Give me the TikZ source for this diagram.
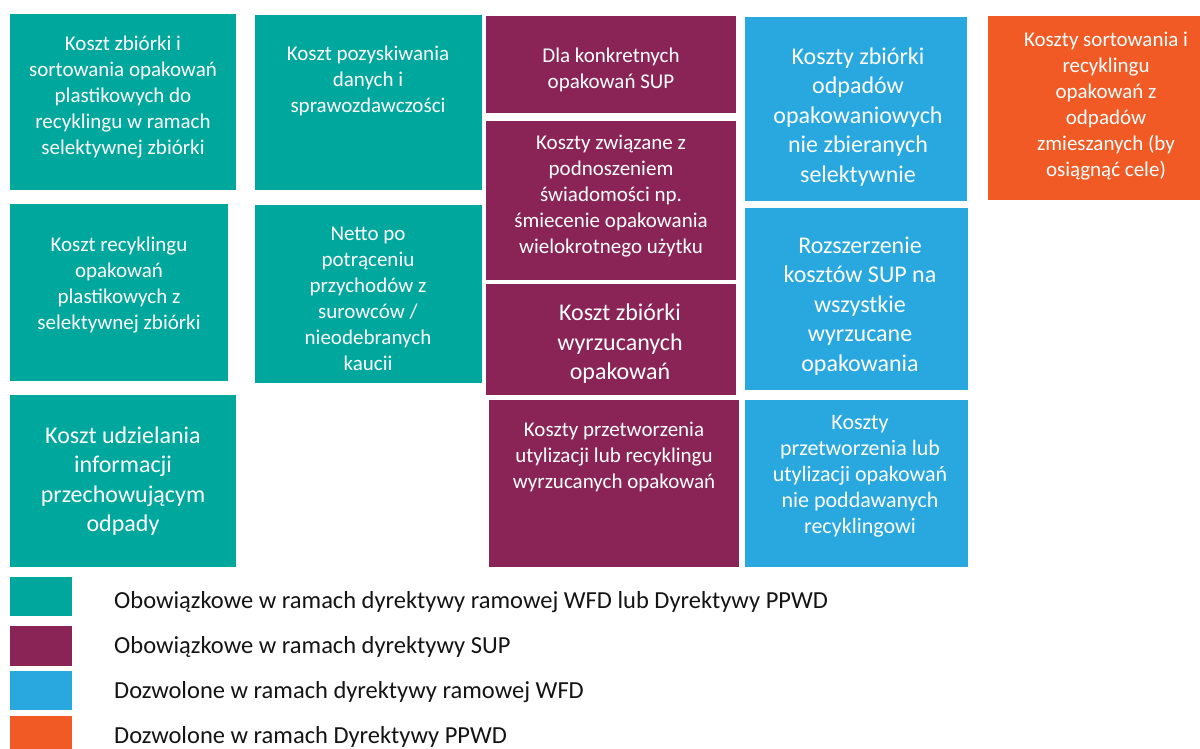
\documentclass[tikz,border=0pt]{standalone}
\usepackage{fontspec}
\setmainfont{Carlito}
\definecolor{cteal}{RGB}{0,167,157}
\definecolor{cpurple}{RGB}{139,36,86}
\definecolor{cblue}{RGB}{41,168,224}
\definecolor{corange}{RGB}{241,90,36}
\definecolor{ctext}{RGB}{20,20,20}
\begin{document}
\begin{tikzpicture}[x=1pt,y=-1pt,
  cell/.style={draw=none,inner sep=0pt,outer sep=0pt},
  lbl/.style={text=white,align=center,inner sep=0pt},
  fa/.style={font=\fontsize{21}{26}\selectfont},
  fb/.style={font=\fontsize{24}{29.5}\selectfont},
  fc/.style={font=\fontsize{22}{26}\selectfont},
  legtext/.style={anchor=west,text=ctext,inner sep=0pt,font=\fontsize{24.5}{28}\selectfont},
  legsq/.style={draw=none,inner sep=0pt,minimum width=62pt}]
\useasboundingbox (0,0) rectangle (1200,749);
% teal cells
\node[cell,fill=cteal,minimum width=226pt,minimum height=176pt] (a) at (123,102) {};
\node[cell,fill=cteal,minimum width=227pt,minimum height=175pt] (b) at (368.5,102.5) {};
\node[cell,fill=cteal,minimum width=218pt,minimum height=177pt] (c) at (119,292.5) {};
\node[cell,fill=cteal,minimum width=227pt,minimum height=178pt] (d) at (368.5,294) {};
\node[cell,fill=cteal,minimum width=226pt,minimum height=172pt] (e) at (123,481) {};
% purple cells
\node[cell,fill=cpurple,minimum width=250pt,minimum height=97pt] (p1) at (611,64.5) {};
\node[cell,fill=cpurple,minimum width=250pt,minimum height=159pt] (p2) at (611,200.5) {};
\node[cell,fill=cpurple,minimum width=250pt,minimum height=111pt] (p3) at (611,339.5) {};
\node[cell,fill=cpurple,minimum width=250pt,minimum height=167pt] (p4) at (614,483.5) {};
% blue cells
\node[cell,fill=cblue,minimum width=222pt,minimum height=184pt] (b1) at (856,109) {};
\node[cell,fill=cblue,minimum width=223pt,minimum height=182pt] (b2) at (856.5,299) {};
\node[cell,fill=cblue,minimum width=223pt,minimum height=167pt] (b3) at (856.5,483.5) {};
% orange cell
\node[cell,fill=corange,minimum width=212pt,minimum height=184pt] (o) at (1094,108) {};
% texts
\node[lbl,fa] (ta) at (123,97) {Koszt zbiórki i\\sortowania opakowań\\plastikowych do\\recyklingu w ramach\\selektywnej zbiórki};
\node[lbl,fa] (tb) at (368,81) {Koszt pozyskiwania\\danych i\\sprawozdawczości};
\node[lbl,fa] (tc) at (119,285) {Koszt recyklingu\\opakowań\\plastikowych z\\selektywnej zbiórki};
\node[lbl,fa] (td) at (368,299) {Netto po\\potrąceniu\\przychodów z\\surowców /\\nieodebranych\\kaucii};
\node[lbl,fb] (te) at (123,481) {Koszt udzielania\\informacji\\przechowującym\\odpady};
\node[lbl,fa] (tp1) at (611,70) {Dla konkretnych\\opakowań SUP};
\node[lbl,fa] (tp2) at (611,196) {Koszty związane z\\podnoszeniem\\świadomości np.\\śmiecenie opakowania\\wielokrotnego użytku};
\node[lbl,fb] (tp3) at (620,344) {Koszt zbiórki\\wyrzucanych\\opakowań};
\node[lbl,fa] (tp4) at (614,457) {Koszty przetworzenia\\utylizacji lub recyklingu\\wyrzucanych opakowań};
\node[lbl,fb] (tb1) at (858,117) {Koszty zbiórki\\odpadów\\opakowaniowych\\nie zbieranych\\selektywnie};
\node[lbl,fb] (tb2) at (860,306) {Rozszerzenie\\kosztów SUP na\\wszystkie\\wyrzucane\\opakowania};
\node[lbl,fc] (tb3) at (860,476) {Koszty\\przetworzenia lub\\utylizacji opakowań\\nie poddawanych\\recyklingowi};
\node[lbl,fa] (to) at (1106,106) {Koszty sortowania i\\recyklingu\\opakowań z\\odpadów\\zmieszanych (by\\osiągnąć cele)};
% legend
\node[legsq,fill=cteal,minimum height=39pt] (l1) at (41,596.5) {};
\node[legsq,fill=cpurple,minimum height=40pt] (l2) at (41,646) {};
\node[legsq,fill=cblue,minimum height=39pt] (l3) at (41,690.5) {};
\node[legsq,fill=corange,minimum height=33pt] (l4) at (41,732.5) {};
\node[legtext] (lt1) at (114,602) {Obowiązkowe w ramach dyrektywy ramowej WFD lub Dyrektywy PPWD};
\node[legtext] (lt2) at (114,647) {Obowiązkowe w ramach dyrektywy SUP};
\node[legtext] (lt3) at (114,692) {Dozwolone w ramach dyrektywy ramowej WFD};
\node[legtext] (lt4) at (114,737) {Dozwolone w ramach Dyrektywy PPWD};
\end{tikzpicture}
\end{document}
